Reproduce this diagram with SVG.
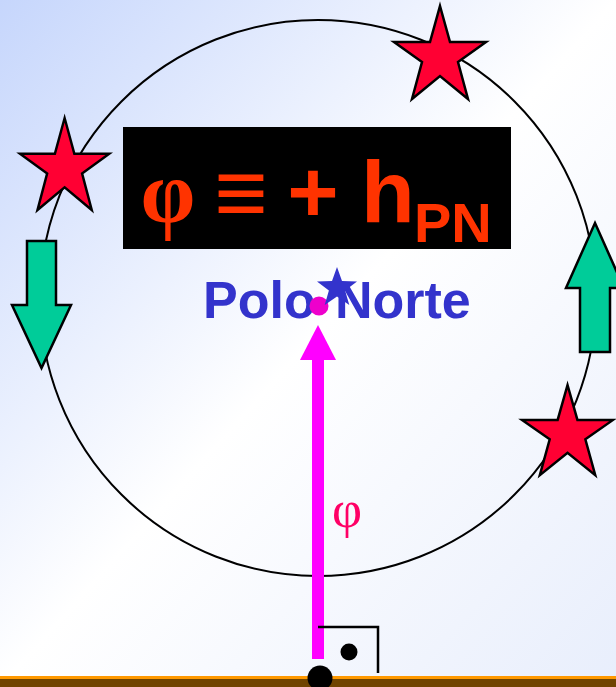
<svg xmlns="http://www.w3.org/2000/svg" xmlns:xlink="http://www.w3.org/1999/xlink" width="616" height="687" viewBox="0 0 616 687">
<style>
.star{fill:#FF0033;stroke:#000;stroke-width:2.5;stroke-linejoin:miter}
.garrow{fill:#00CC99;stroke:#000;stroke-width:2.5}
.title{font-family:"Liberation Sans","DejaVu Sans",Arial,sans-serif;font-weight:bold;fill:#FF3300}
.lbl{font-family:"Liberation Sans",Arial,sans-serif;font-weight:bold;fill:#3333CC;font-size:52px}
</style>
<defs>
<linearGradient id="bg" x1="0" y1="0" x2="1" y2="1">
<stop offset="0" stop-color="#C6D6FC"/>
<stop offset="0.5" stop-color="#FFFFFF"/>
<stop offset="1" stop-color="#E8EEFC"/>
</linearGradient>
<polygon id="star" points="46,0 56,36 92,36 64,56 74,93 46,70 18,93 28,56 0,36 36,36"/>
</defs>
<rect x="0" y="0" width="616" height="687" fill="url(#bg)"/>
<g id="orbit"><circle cx="318" cy="298" r="278" fill="none" stroke="#000" stroke-width="2"/></g>
<g id="title">
<rect x="123" y="127" width="388" height="122" fill="#000"/>
<text x="168" y="222" text-anchor="middle" style="font-family:'Liberation Serif','Times New Roman',serif;font-weight:bold;font-size:88px;fill:#FF3300">φ</text>
<text class="title" x="241" y="224" text-anchor="middle" font-size="92">≡</text>
<text class="title" x="313" y="222" text-anchor="middle" font-size="88">+</text>
<text class="title" x="361" y="222" font-size="88">h</text>
<text class="title" x="414" y="242" font-size="56">PN</text>
</g>
<g id="polo-norte">
<text class="lbl" x="203" y="318">Polo</text>
<text class="lbl" x="335" y="318">Norte</text>
<circle cx="319" cy="306" r="9.5" fill="#EE00CC"/>
<polygon fill="#3333CC" points="337,267 342,281.1 357,281.5 345.1,290.6 349.3,305 337,296.5 324.7,305 328.9,290.6 317,281.5 332,281.1"/>
</g>
<g id="connectors">
<rect x="312" y="356" width="12" height="303" fill="#FF00FF"/>
<polygon points="318,325 336,360 300,360" fill="#FF00FF"/>
</g>
<g id="phi-label">
<text x="347" y="527" text-anchor="middle" style="font-family:'Liberation Serif','Times New Roman',serif;font-size:52px;fill:#FF0066">φ</text>
</g>
<g id="right-angle">
<polyline points="318,627 378,627 378,673" fill="none" stroke="#000" stroke-width="2.5"/>
<circle cx="349" cy="652" r="8.5" fill="#000"/>
</g>
<g id="ground">
<rect x="0" y="676" width="616" height="3" fill="#FF9900"/>
<rect x="0" y="679" width="616" height="8" fill="#704400"/>
<circle cx="320" cy="678" r="12.5" fill="#000"/>
</g>
<g id="star-top"><use xlink:href="#star" class="star" transform="translate(394,6)"/></g>
<g id="star-left"><use xlink:href="#star" class="star" transform="translate(20,118) scale(0.97,0.99)"/></g>
<g id="star-right"><use xlink:href="#star" class="star" transform="translate(522,385) scale(0.99,0.97)"/></g>
<g id="arrow-left"><polygon class="garrow" points="27,241 56,241 56,305 71,305 41.5,368 12,305 27,305"/></g>
<g id="arrow-right"><polygon class="garrow" points="595,223 624,288 610,288 610,352 580,352 580,288 566,288"/></g>
</svg>
